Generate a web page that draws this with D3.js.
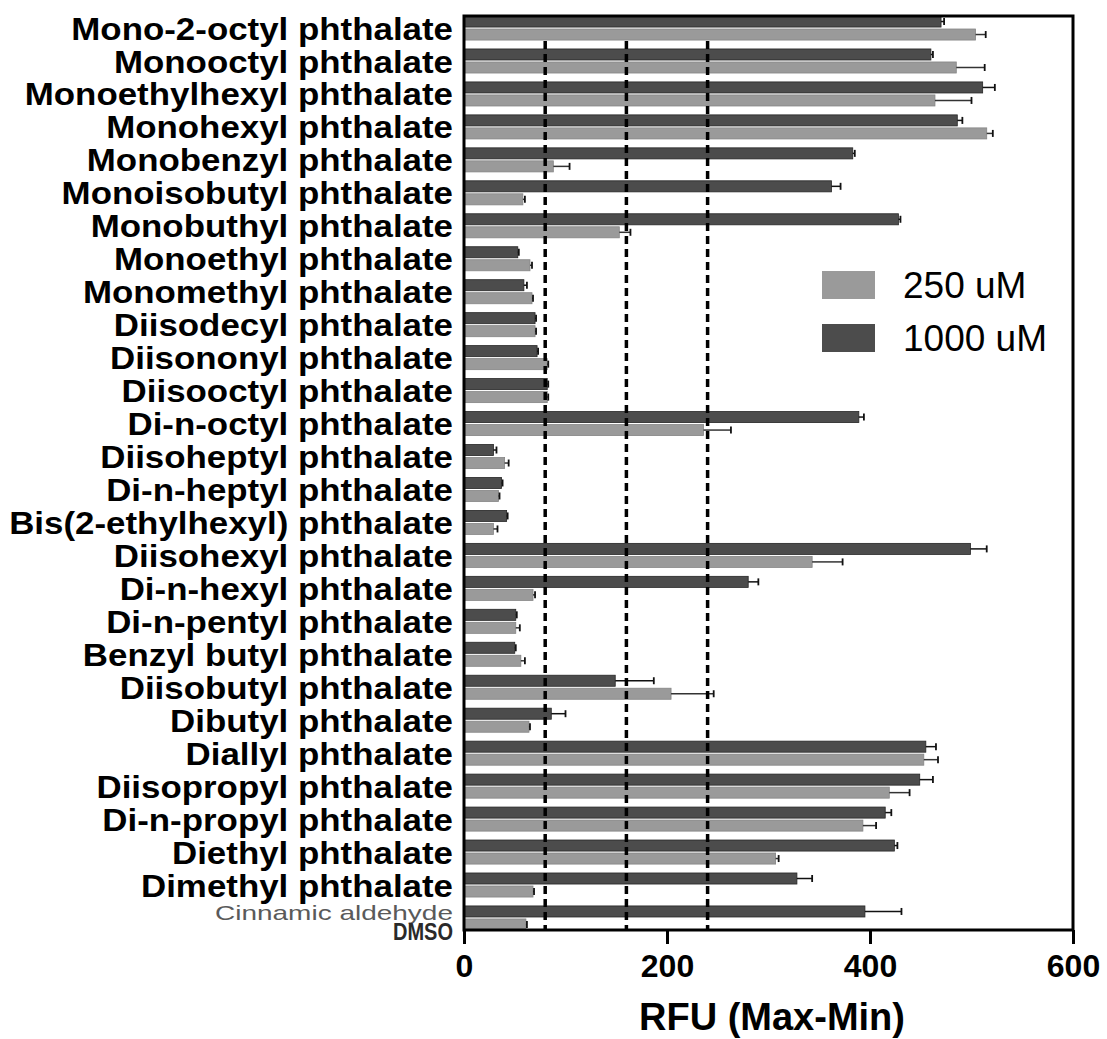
<!DOCTYPE html>
<html><head><meta charset="utf-8">
<script src="https://cdn.jsdelivr.net/npm/d3@7"></script>
<style>body{margin:0;background:#fff}svg{display:block}</style>
</head><body><svg id="c" width="1107" height="1039"></svg>
<script>
const groups = ["Mono-2-octyl phthalate","Monooctyl phthalate","Monoethylhexyl phthalate","Monohexyl phthalate","Monobenzyl phthalate","Monoisobutyl phthalate","Monobuthyl phthalate","Monoethyl phthalate","Monomethyl phthalate","Diisodecyl phthalate","Diisononyl phthalate","Diisooctyl phthalate","Di-n-octyl phthalate","Diisoheptyl phthalate","Di-n-heptyl phthalate","Bis(2-ethylhexyl) phthalate","Diisohexyl phthalate","Di-n-hexyl phthalate","Di-n-pentyl phthalate","Benzyl butyl phthalate","Diisobutyl phthalate","Dibutyl phthalate","Diallyl phthalate","Diisopropyl phthalate","Di-n-propyl phthalate","Diethyl phthalate","Dimethyl phthalate","Controls"];
const controlLabels = ["Cinnamic aldehyde","DMSO"];
const series = ["1000 uM","250 uM"];
const legendOrder = ["250 uM","1000 uM"];
const values1000 = [470,460,511,486,383,362,428,53,59,70,72,82,389,29,37,42,499,280,51,50,149,86,455,449,415,424,328,395];
const err1000    = [3,2,12,5,2,9,2,1,3,1,1,1,5,3,1,1,16,10,1,1,38,14,10,13,6,3,15,36];
const values250  = [504,485,464,515,88,58,153,65,67,70,82,82,236,40,34,29,343,68,51,56,204,64,453,419,393,307,68,61];
const err250     = [10,28,36,6,16,2,11,2,1,1,1,1,27,4,1,4,30,2,4,4,42,1,14,20,13,3,1,1];
const xTicks = [0,200,400,600];
const refLines = [80,160,240];

const svg = d3.select("#c");
const FONT = "Liberation Sans, Arial, sans-serif";
const L=464,R=1073,T=16,B=930;
const x = d3.scaleLinear().domain([0,600]).range([L,R]);
const y = d3.scaleBand().domain(groups).range([T,B]).paddingInner(0.27).paddingOuter(0);
const ys = d3.scaleBand().domain(series).range([0,y.bandwidth()]).paddingInner(0.15);
const color = {"1000 uM":"#4c4c4c","250 uM":"#9a9a9a"};

const rows = groups.map((g,i)=>({g, d:[
  {s:"1000 uM", v:values1000[i], e:err1000[i]},
  {s:"250 uM", v:values250[i], e:err250[i]}]}));

const gg = svg.append("g").selectAll("g").data(rows).join("g")
  .attr("transform", d=>`translate(0,${y(d.g)})`);
gg.selectAll("rect").data(d=>d.d).join("rect")
  .attr("x", x(0)).attr("y", d=>ys(d.s)).attr("height", ys.bandwidth())
  .attr("width", d=>x(d.v)-x(0)).attr("fill", d=>color[d.s])
  .attr("stroke", d=>d.s==="1000 uM"?"#262626":"#858585").attr("stroke-width",0.8);
gg.selectAll("line.err").data(d=>d.d).join("line").attr("class","err")
  .attr("x1", d=>x(d.v)).attr("x2", d=>x(d.v+d.e))
  .attr("y1", d=>ys(d.s)+ys.bandwidth()/2).attr("y2", d=>ys(d.s)+ys.bandwidth()/2)
  .attr("stroke", d=>d.s==="1000 uM"?"#111":"#333").attr("stroke-width",1.5);
gg.selectAll("line.cap").data(d=>d.d).join("line").attr("class","cap")
  .attr("x1", d=>x(d.v+d.e)).attr("x2", d=>x(d.v+d.e))
  .attr("y1", d=>ys(d.s)+ys.bandwidth()/2-3.5).attr("y2", d=>ys(d.s)+ys.bandwidth()/2+3.5)
  .attr("stroke","#111").attr("stroke-width",1.8);

// reference dashed lines
svg.append("g").selectAll("line").data(refLines).join("line")
  .attr("x1",d=>x(d)).attr("x2",d=>x(d))
  .attr("y1", y(groups[1])-8).attr("y2", B)
  .attr("stroke","#000").attr("stroke-width",3.5).attr("stroke-dasharray","8,5");

// frame
svg.append("rect").attr("x",L).attr("y",T).attr("width",R-L).attr("height",B-T)
  .attr("fill","none").attr("stroke","#000").attr("stroke-width",3);

// x axis
const ax = svg.append("g").attr("transform",`translate(0,${B})`)
  .call(d3.axisBottom(x).tickValues(xTicks).tickSize(14).tickPadding(10).tickFormat(d3.format("d")));
ax.select(".domain").remove();
ax.selectAll(".tick line").attr("stroke","#000").attr("stroke-width",3);
ax.selectAll(".tick text").attr("font-family",FONT)
  .attr("font-weight","bold").attr("font-size",32).attr("fill","#000");

svg.append("text").attr("x",772).attr("y",1030).attr("text-anchor","middle")
  .attr("font-family",FONT).attr("font-weight","bold")
  .attr("font-size",38).text("RFU (Max-Min)");

// category labels (slightly wide lettering as in the source)
svg.append("g").selectAll("text").data(groups.slice(0,27)).join("text")
  .attr("transform",d=>`translate(453,${y(d)+y.bandwidth()/2}) scale(1.09,1)`)
  .attr("dy","0.36em")
  .attr("text-anchor","end").attr("font-family",FONT)
  .attr("font-weight","bold").attr("font-size",32).attr("fill","#000").text(d=>d);
const last = groups[groups.length-1];
const ctlLen = [238, 60];
const ctlSize = [21, 24];
svg.append("g").selectAll("text").data(controlLabels).join("text")
  .attr("x",453).attr("y",(d,i)=>y(last)+ys(series[i])+ys.bandwidth()/2+(i?7:1)).attr("dy","0.36em")
  .attr("text-anchor","end").attr("font-family",FONT)
  .attr("textLength",(d,i)=>ctlLen[i]).attr("lengthAdjust","spacingAndGlyphs")
  .attr("font-size",(d,i)=>ctlSize[i]).attr("fill",(d,i)=>i?"#2a2a2a":"#5a5a5a").attr("font-weight",(d,i)=>i?"bold":"normal")
  .text(d=>d);

// legend
const lg = svg.append("g").selectAll("g").data(legendOrder).join("g")
  .attr("transform",(d,i)=>`translate(822,${271+i*53})`);
lg.append("rect").attr("width",53).attr("height",28).attr("fill",d=>color[d]);
lg.append("text").attr("x",81).attr("y",14).attr("dy","0.36em")
  .attr("font-family",FONT).attr("font-size",37).text(d=>d);
</script></body></html>
